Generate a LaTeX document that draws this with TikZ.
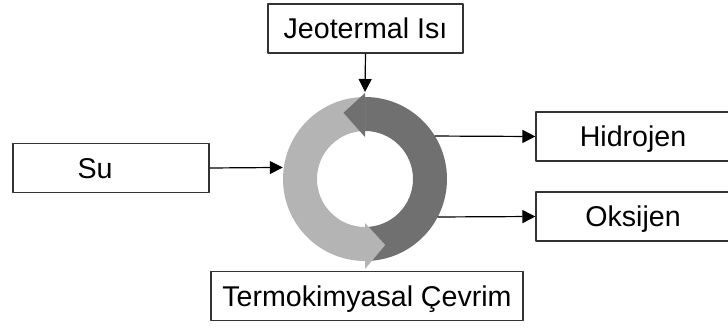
\documentclass[tikz,border=0pt]{standalone}
\usepackage{fontspec}
\setmainfont{Liberation Sans}
\usetikzlibrary{calc, arrows.meta}
\definecolor{ringlight}{RGB}{180,180,180}
\definecolor{ringdark}{RGB}{112,112,112}

\begin{document}
\begin{tikzpicture}[x=0.5pt, y=0.5pt, line join=round,
    box/.style={draw=black!80, line width=0.6pt, fill=white, minimum height=24.5pt,
                text height=10.3pt, text depth=0pt, font=\fontsize{14.3}{17}\selectfont},
    flow/.style={line width=0.6pt, -{Triangle[length=6.5pt, width=6.5pt]}}]

    \useasboundingbox (0,0) rectangle (728,327);
    \clip (0,0) rectangle (728,327);

    % ring centre and radii, in px of the 728x327 canvas
    \coordinate (C) at (365,148);
    \def\Ro{82}
    \def\Ri{48}

    % ==========================================
    % CYCLE RING (two curved arrows)
    % ==========================================

    % dark half on the right, going up
    \fill[ringdark] ($(C)+(-90:\Ro)$) arc[start angle=-90, end angle=90, radius=\Ro]
        -- ($(C)+(90:\Ri)$) arc[start angle=90, end angle=-90, radius=\Ri] -- cycle;

    % light half on the left, going down
    \fill[ringlight] ($(C)+(90:\Ro)$) arc[start angle=90, end angle=270, radius=\Ro]
        -- ($(C)+(270:\Ri)$) arc[start angle=270, end angle=90, radius=\Ri] -- cycle;

    % heads
    \fill[ringlight] ($(C)+(270:44)$) -- ($(C)+(287:69)$) -- ($(C)+(270:90)$) -- cycle;
    \fill[ringdark] ($(C)+(90:42)$) -- ($(C)+(108:69.6)$) -- ($(C)+(90:86)$) -- cycle;

    % ==========================================
    % BOXES
    % ==========================================

    \node[box, minimum width=97.5pt] (heat) at (365.5,298.5) {Jeotermal Isı};
    \node[box, minimum width=98pt] (su) at (111,159) {Su\hspace*{16pt}};
    \node[box, minimum width=97pt] (hyd) at (633,190.5) {Hidrojen};
    \node[box, minimum width=97pt] (oxy) at (633,110.5) {Oksijen};
    \node[box, minimum width=156pt] (cyc) at (367,31) {Termokimyasal Çevrim};

    % ==========================================
    % CONNECTORS
    % ==========================================

    \coordinate (ringtop) at ($(C)+(90:87)$);
    \coordinate (ringleft) at ($(C)+(172:83)$);
    \coordinate (h-out) at ($(C)+(31.6:\Ro)$);
    \coordinate (o-out) at ($(C)+(-27.6:\Ro)$);

    \draw[flow] (heat.south) -- (ringtop);
    \draw[flow] (su.east) -- (ringleft);
    \draw[flow] (h-out) -- (hyd.west);
    \draw[flow] (o-out) -- (oxy.west);

\end{tikzpicture}
\end{document}
